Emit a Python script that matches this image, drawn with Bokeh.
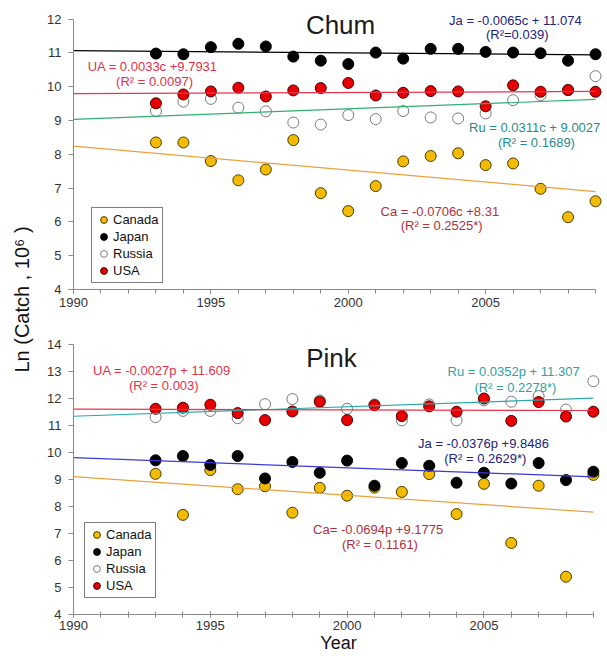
import math
from bokeh.plotting import figure
from bokeh.models import Range1d, SingleIntervalTicker, Label, Legend, LegendItem
from bokeh.layouts import row, column
from bokeh.embed import file_html
from bokeh.resources import INLINE

# ---------------- data ----------------
years = list(range(1993, 2010))
countries = ["Canada", "Japan", "Russia", "USA"]

chum_canada = [8.35, 8.35, 7.80, 7.23, 7.55, 8.42, 6.85, 6.32, 7.06, 7.79, 7.95, 8.03, 7.68, 7.73, 6.98, 6.14, 6.61]
chum_japan = [10.98, 10.96, 11.17, 11.27, 11.19, 10.89, 10.77, 10.67, 11.01, 10.83, 11.12, 11.12, 11.03, 11.01, 10.99, 10.77, 10.96]
chum_russia = [9.28, 9.56, 9.64, 9.38, 9.27, 8.94, 8.88, 9.16, 9.04, 9.28, 9.09, 9.06, 9.21, 9.60, 9.75, 9.90, 10.31]
chum_usa = [9.51, 9.77, 9.86, 9.97, 9.71, 9.89, 9.96, 10.11, 9.74, 9.82, 9.87, 9.86, 9.42, 10.04, 9.85, 9.90, 9.85]

pink_canada = [9.21, 7.69, 9.35, 8.64, 8.75, 7.77, 8.69, 8.40, 8.70, 8.54, 9.20, 7.72, 8.84, 6.65, 8.77, 5.40, 9.17]
pink_japan = [9.71, 9.87, 9.54, 9.87, 9.04, 9.65, 9.25, 9.70, 8.77, 9.61, 9.51, 8.88, 9.25, 8.85, 9.61, 8.98, 9.29]
pink_russia = [11.31, 11.54, 11.54, 11.27, 11.79, 11.98, 11.93, 11.62, 11.78, 11.19, 11.78, 11.19, 11.93, 11.88, 12.09, 11.59, 12.64]
pink_usa = [11.62, 11.66, 11.77, 11.46, 11.20, 11.52, 11.88, 11.20, 11.75, 11.35, 11.71, 11.51, 12.00, 11.17, 11.87, 11.33, 11.51]

# trend lines: y = slope * (year - 1989) + intercept  (Canada, Japan, Russia, USA)
trend_origin = 1989
trend_years = [1990, 2009]
chum_slope = [-0.0706, -0.0065, 0.0311, 0.0033]
chum_intercept = [8.31, 11.074, 9.0027, 9.7931]
pink_slope = [-0.0694, -0.0376, 0.0352, -0.0027]
pink_intercept = [9.1775, 9.8486, 11.307, 11.609]

chum_eq = ["Ca = -0.0706c  +8.31", "Ja = -0.0065c  + 11.074", "Ru = 0.0311c  + 9.0027", "UA = 0.0033c  +9.7931"]
chum_r2 = ["(R\u00b2 = 0.2525*)", "(R\u00b2=0.039)", "(R\u00b2 = 0.1689)", "(R\u00b2 = 0.0097)"]
pink_eq = ["Ca= -0.0694p  +9.1775", "Ja = -0.0376p  +9.8486", "Ru = 0.0352p  + 11.307", "UA = -0.0027p  + 11.609"]
pink_r2 = ["(R\u00b2 = 0.1161)", "(R\u00b2 = 0.2629*)", "(R\u00b2 = 0.2278*)", "(R\u00b2 = 0.003)"]

x_ticks_interval = 5
y_label = "Ln (Catch , 10\u2076 )"
x_label = "Year"

# ---------------- styles / positions ----------------
FONT = "Liberation Sans"
marker_fill = ["#F5BB00", "#000000", "#FFFFFF", "#E80000"]
marker_line = ["#4a3c00", "#000000", "#7a7a7a", "#4a0000"]
chum_line_colors = ["#E9A23B", "#000000", "#2DB070", "#E8344A"]
pink_line_colors = ["#E9A23B", "#3A3AD8", "#2BA8A8", "#E8344A"]
chum_text_colors = ["#B0303A", "#22227A", "#1F8C8C", "#E0304A"]
pink_text_colors = ["#B0303A", "#22227A", "#2AA3A3", "#E0304A"]

# label positions (data coordinates): x, equation line y, R2 line y
chum_eq_pos = [(2003.4, 6.30, 5.885), (2006.15, 11.95, 11.535), (2006.85, 8.784, 8.34), (1992.95, 10.589, 10.145)]
pink_eq_pos = [(2001.2, 7.14, 6.58), (2005.05, 10.35, 9.79), (2006.15, 13.00, 12.41), (1993.3, 13.04, 12.49)]


def style_axes(p, ybounds, tick_in):
    yax = p.yaxis[0]
    yax.bounds = ybounds
    yax.ticker = SingleIntervalTicker(interval=1, num_minor_ticks=0)
    yax.major_tick_out = 5
    yax.major_tick_in = 0
    yax.major_label_standoff = 7
    xax = p.xaxis[0]
    xax.bounds = (1990, 2009)
    xax.ticker = SingleIntervalTicker(interval=x_ticks_interval, num_minor_ticks=5)
    xax.major_tick_out = 4 if tick_in == 0 else 3
    xax.minor_tick_out = 4 if tick_in == 0 else 3
    xax.major_tick_in = tick_in
    xax.minor_tick_in = tick_in
    xax.major_label_standoff = 4 if tick_in == 0 else 3
    for ax in (xax, yax):
        ax.axis_line_color = "#8a8a8a"
        ax.major_tick_line_color = "#8a8a8a"
        ax.minor_tick_line_color = "#8a8a8a"
        ax.major_label_text_font = FONT
        ax.major_label_text_font_size = "13px"
        ax.major_label_text_color = "#333333"
    p.xgrid.visible = False
    p.ygrid.visible = False
    p.outline_line_color = None


def add_series(p, series, slopes, intercepts, line_colors, eqs, r2s, text_colors, positions, legend_loc):
    renderers = []
    for i, ys in enumerate(series):
        r = p.scatter(years, ys, size=11, marker="circle", fill_color=marker_fill[i],
                      line_color=marker_line[i], line_width=1)
        renderers.append(r)
    for i in range(4):
        ty = [slopes[i] * (yr - trend_origin) + intercepts[i] for yr in trend_years]
        p.line(trend_years, ty, line_color=line_colors[i], line_width=1.2)
    for i in range(4):
        x, y1, y2 = positions[i]
        for txt, yy in ((eqs[i], y1), (r2s[i], y2)):
            p.add_layout(Label(x=x, y=yy, text=txt, text_align="center", text_baseline="middle",
                               text_font=FONT, text_font_size="13px", text_color=text_colors[i]))
    legend = Legend(items=[LegendItem(label=c, renderers=[renderers[i]]) for i, c in enumerate(countries)],
                    location=legend_loc, border_line_color="black", border_line_width=1,
                    background_fill_color="white", background_fill_alpha=1.0,
                    label_text_font=FONT, label_text_font_size="13px", label_text_color="#111111",
                    glyph_width=17, glyph_height=17, label_height=17, padding=3, spacing=0,
                    label_standoff=1, margin=0)
    p.add_layout(legend)


# ---------------- top chart: Chum ----------------
p1 = figure(width=567, height=321, x_range=Range1d(1990, 2009.29), y_range=Range1d(4, 12.55),
            output_backend="svg", toolbar_location=None, min_border_left=33, min_border_right=0,
            min_border_top=0, min_border_bottom=32)
style_axes(p1, (4, 12), 0)
add_series(p1, [chum_canada, chum_japan, chum_russia, chum_usa], chum_slope, chum_intercept,
           chum_line_colors, chum_eq, chum_r2, chum_text_colors, chum_eq_pos, (18, 6))
p1.add_layout(Label(x=1999.72, y=11.83, text="Chum", text_align="center", text_baseline="middle",
                    text_font=FONT, text_font_size="26px", text_color="#1a1a1a"))

# ---------------- bottom chart: Pink ----------------
p2 = figure(width=567, height=334, x_range=Range1d(1990, 2009.37), y_range=Range1d(4, 14),
            output_backend="svg", toolbar_location=None, min_border_left=37, min_border_right=0,
            min_border_top=23, min_border_bottom=40)
style_axes(p2, (4, 14), 3)
p2.xaxis[0].axis_label = x_label
p2.xaxis[0].axis_label_standoff = 0
p2.xaxis[0].axis_label_text_font = FONT
p2.xaxis[0].axis_label_text_font_size = "18px"
p2.xaxis[0].axis_label_text_font_style = "normal"
p2.xaxis[0].axis_label_text_color = "#111111"
add_series(p2, [pink_canada, pink_japan, pink_russia, pink_usa], pink_slope, pink_intercept,
           pink_line_colors, pink_eq, pink_r2, pink_text_colors, pink_eq_pos, (11, 16))
p2.add_layout(Label(x=1999.43, y=13.5, text="Pink", text_align="center", text_baseline="middle",
                    text_font=FONT, text_font_size="26px", text_color="#1a1a1a"))

# ---------------- shared y label ----------------
pl = figure(width=36, height=655, x_range=Range1d(0, 36), y_range=Range1d(0, 655),
            output_backend="svg", toolbar_location=None, min_border=0,
            x_axis_location=None, y_axis_location=None)
pl.xgrid.visible = False
pl.ygrid.visible = False
pl.outline_line_color = None
pl.add_layout(Label(x=21, y=356, text=y_label, angle=math.pi / 2, text_align="center",
                    text_baseline="middle", text_font=FONT, text_font_size="20px", text_color="#111111"))

layout = row(pl, column(p1, p2, spacing=0), spacing=0)
open("out.html", "w").write(file_html(layout, INLINE))
